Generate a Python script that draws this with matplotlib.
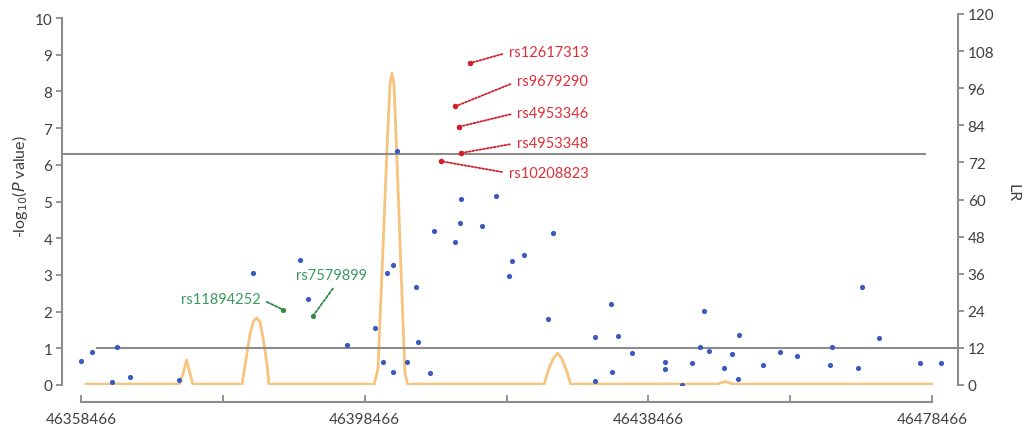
import numpy as np
import matplotlib
matplotlib.use('Agg')
import matplotlib.pyplot as plt

plt.rcParams['font.family'] = ['Lato', 'DejaVu Sans']

# posicoes dos SNPs (pb) e -log10(P)
snp_pos = [46358424, 46359975, 46363584, 46362795, 46365333, 46372326, 46382760,
           46389345, 46390515, 46395972, 46399878, 46401006, 46401654, 46402500,
           46402500, 46403064, 46404390, 46405659, 46406025, 46407675, 46408281,
           46411200, 46411905, 46412046, 46414965, 46416981, 46418772, 46419195,
           46420929, 46424355, 46424976, 46430898, 46430940, 46433154, 46433379,
           46434183, 46436115, 46440881, 46440881, 46443165, 46444575, 46445745,
           46446309, 46447056, 46449129, 46450215, 46451061, 46451286, 46454670,
           46457025, 46459464, 46464075, 46464399, 46468065, 46468629, 46471026,
           46476765, 46479684]
snp_logp = [0.65, 0.90, 1.03, 0.07, 0.21, 0.14, 3.05, 3.41, 2.34, 1.09, 1.54, 0.63,
            3.06, 3.28, 0.36, 6.37, 0.62, 2.68, 1.18, 0.33, 4.19, 3.90, 4.41, 5.07,
            4.34, 5.14, 2.96, 3.39, 3.53, 1.80, 4.13, 0.11, 1.30, 2.20, 0.35, 1.34,
            0.86, 0.62, 0.43, 0.00, 0.60, 1.04, 2.02, 0.93, 0.47, 0.84, 0.16, 1.37,
            0.54, 0.89, 0.78, 0.55, 1.04, 0.47, 2.67, 1.29, 0.59, 0.59]

# SNPs significativos (vermelho)
red_snps = ['rs12617313', 'rs9679290', 'rs4953346', 'rs4953348', 'rs10208823']
red_pos = [46413315, 46411200, 46411806, 46412004, 46409184]
red_logp = [8.77, 7.59, 7.04, 6.32, 6.10]

# SNPs destacados (verde)
green_snps = ['rs11894252', 'rs7579899']
green_pos = [46386990, 46391136]
green_logp = [2.05, 1.87]

# curva LR (eixo direito)
lr_pos = [46359171, 46371861, 46372284, 46372848, 46373370, 46373835, 46374258, 46374822,
          46380744, 46381167, 46381731, 46382295, 46382789, 46383240, 46383705, 46384128,
          46384692, 46384974, 46385538, 46399215, 46399779, 46400343, 46401048, 46401612,
          46402035, 46402317, 46402599, 46403022, 46403586, 46404150, 46404573, 46405137,
          46423326, 46423749, 46424313, 46425018, 46425681, 46426287, 46426992, 46427556,
          46428120, 46448283, 46448847, 46449411, 46449975, 46450539, 46478457]
lr_val = [0.3, 0.3, 0.0, 3.6, 8.1, 3.6, 0.0, 0.3,
          0.3, 0.0, 8.4, 16.5, 20.7, 21.7, 20.4, 15.5,
          6.8, 0.0, 0.3, 0.3, 0.0, 5.2, 44.0, 76.3,
          97.3, 100.9, 97.3, 73.1, 37.5, 3.6, 0.0, 0.3,
          0.3, 0.0, 4.5, 8.4, 10.3, 8.4, 4.2, 0.0,
          0.3, 0.3, 0.8, 1.1, 0.6, 0.3, 0.3]

p_threshold = 6.3
lr_threshold = 12

xtick_labels = ['46358466', '', '46398466', '', '46438466', '', '46478466']

grey = '#8c8c8c'
txt = '#404040'

fig = plt.figure(figsize=(10.26, 4.31), dpi=100)
ax = fig.add_axes([62 / 1026, 45 / 431, 896 / 1026, 371 / 431])
ax2 = ax.twinx()
ax.set_zorder(ax2.get_zorder() + 1)
ax.patch.set_visible(False)

# curva LR
ax2.plot(lr_pos, lr_val, color='#f6c47c', lw=2, solid_joinstyle='round')
ax2.axhline(lr_threshold, xmin=0.039, xmax=1.0, color=grey, lw=1.5)

ax.axhline(p_threshold, xmin=0, xmax=0.963, color=grey, lw=1.5)
ax.scatter(snp_pos, snp_logp, s=14, color='#3a5bbd', zorder=3, linewidths=0)
ax.scatter(red_pos, red_logp, s=16, color='#d0202a', zorder=4, linewidths=0)
ax.scatter(green_pos, green_logp, s=14, color='#2f8a47', zorder=4, linewidths=0)

# rotulos
red_offsets = [(39, 11), (62, 25), (58, 14), (56, 10), (68, -12)]
for name, x, y, off in zip(red_snps, red_pos, red_logp, red_offsets):
    ax.annotate(name, (x, y), xytext=off, textcoords='offset pixels',
                ha='left', va='center', color='#e0303a', fontsize=10.5,
                arrowprops=dict(arrowstyle='-', color='#d0202a', lw=1.3,
                                linestyle=(0, (1, 1)), relpos=(0, 0.5),
                                shrinkA=3, shrinkB=0))

green_offsets = [(-23, 11), (19, 41)]
green_ha = ['right', 'center']
green_rel = [(1, 0.5), (0.58, 0)]
for name, x, y, off, ha, rel in zip(green_snps, green_pos, green_logp,
                                     green_offsets, green_ha, green_rel):
    ax.annotate(name, (x, y), xytext=off, textcoords='offset pixels',
                ha=ha, va='center', color='#3a9a5c', fontsize=10.5,
                arrowprops=dict(arrowstyle='-', color='#2f8a47', lw=1.3,
                                linestyle=(0, (1.5, 1)), relpos=rel,
                                shrinkA=3, shrinkB=0))

x0 = 46358466 - 19 * 141
x1 = 46478466 + 26 * 141
ax.set_xlim(x0, x1)
ax.set_ylim(0, 10.11)
ax2.set_ylim(0, 120)

for a in (ax, ax2):
    a.spines['top'].set_visible(False)
ax2.spines['left'].set_visible(False)
ax2.spines['bottom'].set_visible(False)
ax.spines['right'].set_visible(False)

ax.spines['left'].set_bounds(0, 10)
ax.spines['left'].set_color(grey)
ax.spines['left'].set_linewidth(1.5)
ax2.spines['right'].set_bounds(0, 120)
ax2.spines['right'].set_color(grey)
ax2.spines['right'].set_linewidth(1.5)

ax.spines['bottom'].set_position(('outward', 12.5))
ax.spines['bottom'].set_bounds(46358466, 46478466)
ax.spines['bottom'].set_color(grey)
ax.spines['bottom'].set_linewidth(1.5)

ax.set_xticks(np.arange(46358466, 46478467, 20000))
ax.set_xticklabels(xtick_labels)
ax.tick_params(axis='x', direction='in', length=5, width=1.3, color=grey,
               labelcolor=txt, labelsize=11, pad=7)
ax.set_yticks(range(0, 11))
ax.tick_params(axis='y', direction='out', length=4, width=1.3, color=grey,
               labelcolor=txt, labelsize=11, pad=3)
ax2.set_yticks(range(0, 121, 12))
ax2.tick_params(axis='y', direction='out', length=4, width=1.3, color=grey,
                labelcolor=txt, labelsize=11, pad=3)

fig.text(20 / 1026, 1 - 187 / 431, r'-log$_{10}$($\mathit{P}$ value)', rotation=90,
         ha='center', va='center', color=txt, fontsize=11.5)
fig.text(1012 / 1026, 1 - 193 / 431, 'LR', rotation=270,
         ha='center', va='center', color=txt, fontsize=11.5)

fig.savefig('out.png', dpi=100)
